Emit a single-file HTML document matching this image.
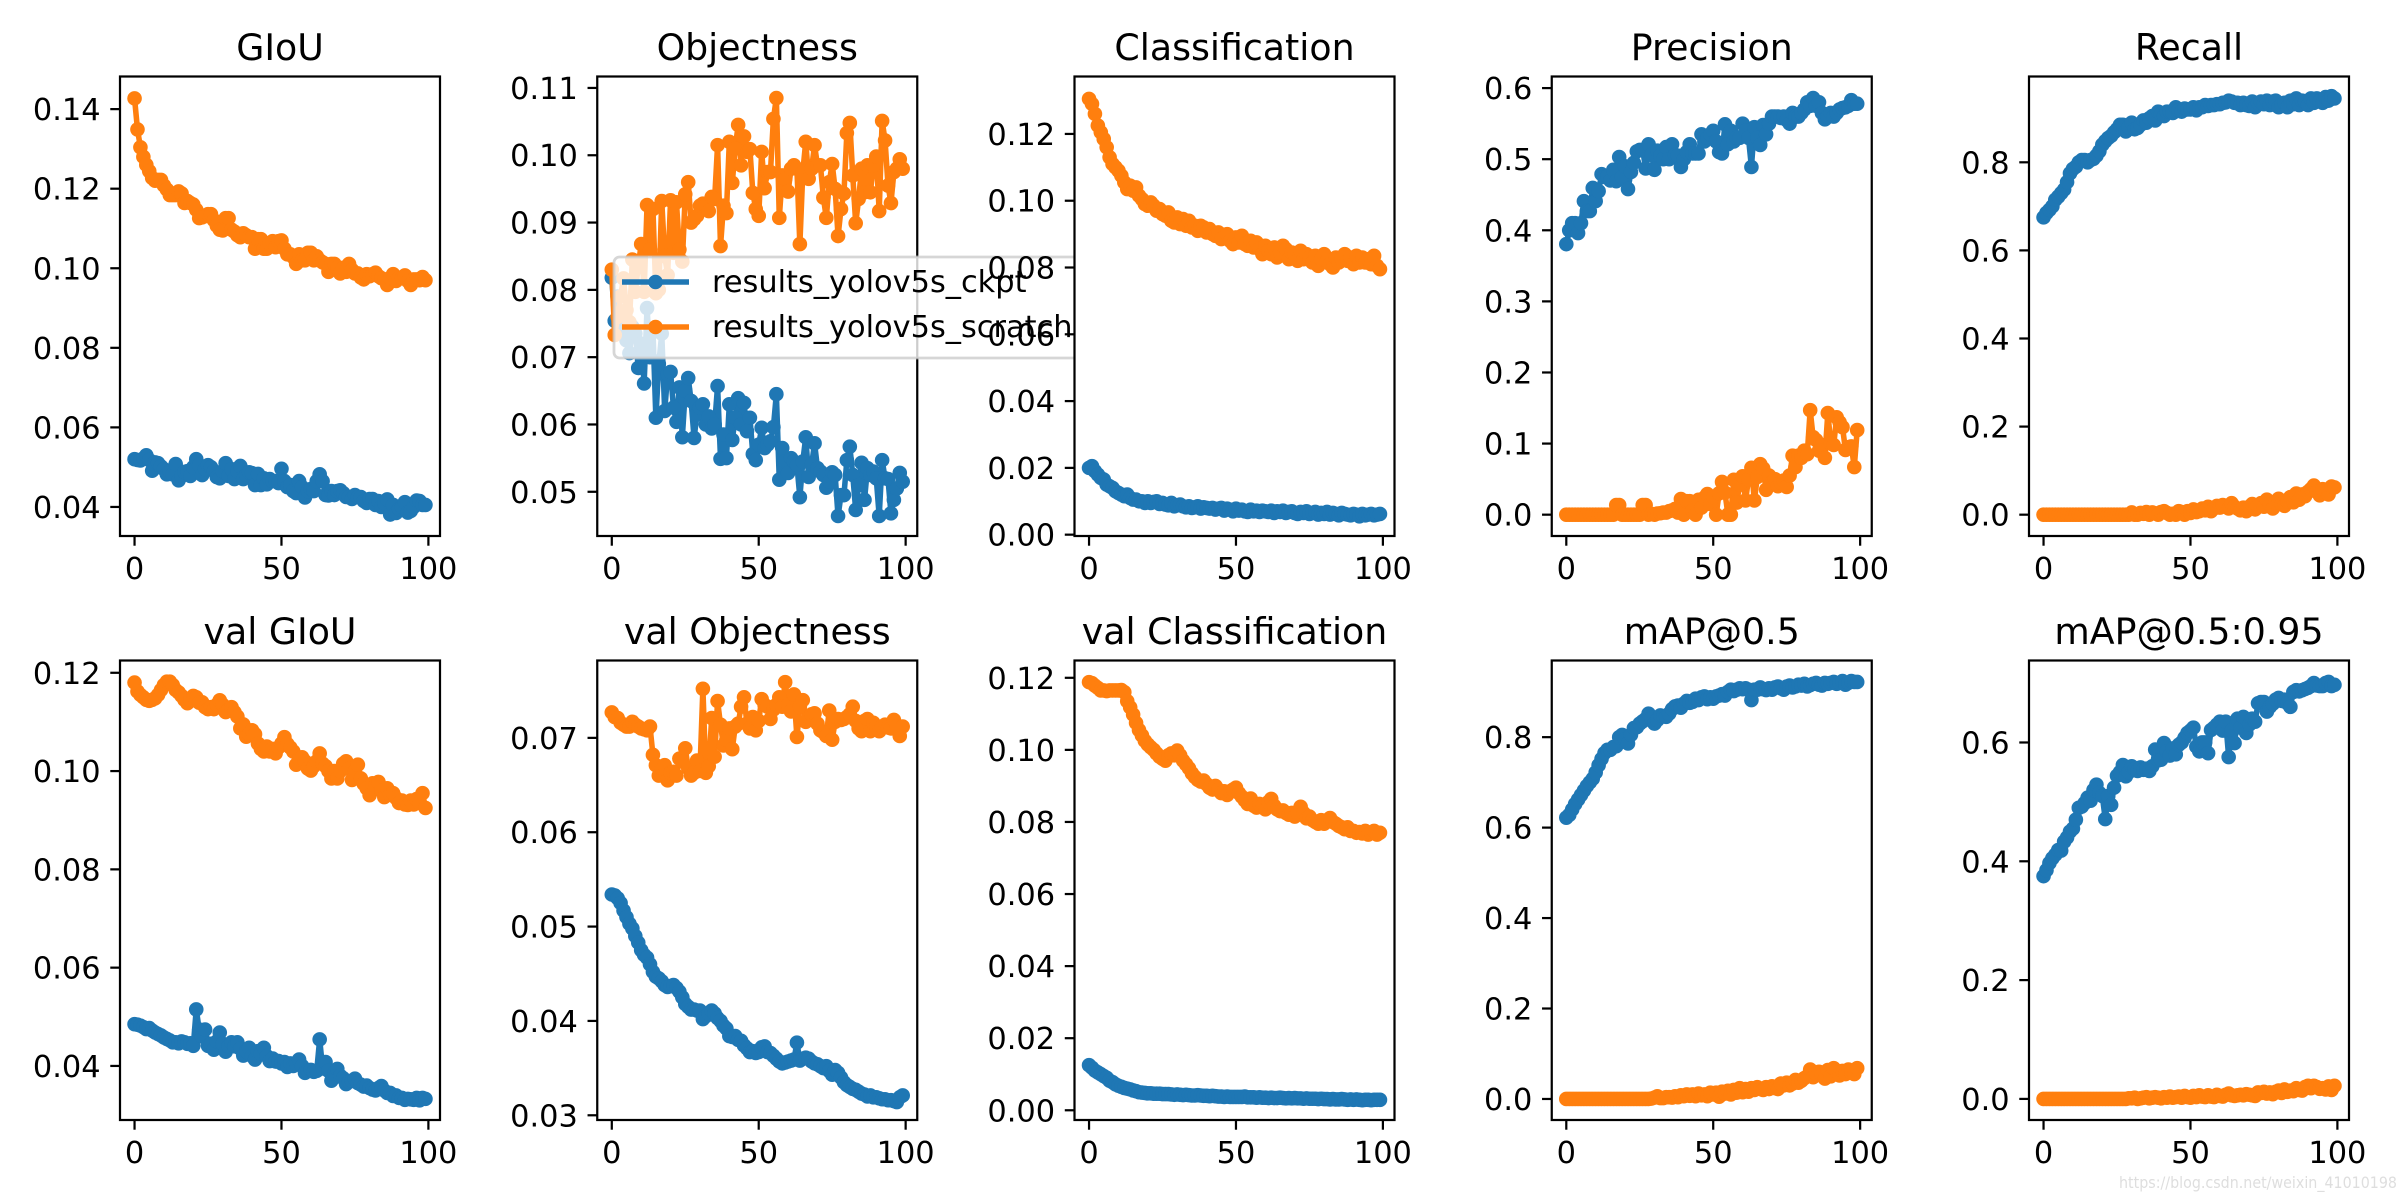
<!DOCTYPE html>
<html lang="en">
<head>
<meta charset="utf-8">
<title>YOLOv5 training results</title>
<style>
html,body{margin:0;padding:0;background:#fff;width:2400px;height:1200px;overflow:hidden}
svg{display:block}
text{font-family:"DejaVu Sans","Liberation Sans",sans-serif;fill:#000}
</style>
</head>
<body>
<svg id="chart" xmlns="http://www.w3.org/2000/svg" width="2400" height="1200" viewBox="0 0 2400 1200"></svg>
<script>
const panelTitles = ['GIoU','Objectness','Classification','Precision','Recall','val GIoU','val Objectness','val Classification','mAP@0.5','mAP@0.5:0.95'];
const legendLabels = ['results_yolov5s_ckpt','results_yolov5s_scratch'];
const xTickLabels = ['0','50','100'];
const xLimits = [-4.95,103.95];

const giouTicks = ['0.04','0.06','0.08','0.10','0.12','0.14'];
const objTicks = ['0.05','0.06','0.07','0.08','0.09','0.10','0.11'];
const classTicks = ['0.00','0.02','0.04','0.06','0.08','0.10','0.12'];
const precisionTicks = ['0.0','0.1','0.2','0.3','0.4','0.5','0.6'];
const recallTicks = ['0.0','0.2','0.4','0.6','0.8'];
const valGiouTicks = ['0.04','0.06','0.08','0.10','0.12'];
const valObjTicks = ['0.03','0.04','0.05','0.06','0.07'];
const valClassTicks = ['0.00','0.02','0.04','0.06','0.08','0.10','0.12'];
const map50Ticks = ['0.0','0.2','0.4','0.6','0.8'];
const map95Ticks = ['0.0','0.2','0.4','0.6'];

const giouLimits = [0.0327,0.1482];
const objLimits = [0.04343,0.1117];
const classLimits = [-0.0004,0.1372];
const precisionLimits = [-0.03,0.6163];
const recallLimits = [-0.0484,0.9948];
const valGiouLimits = [0.029,0.1225];
const valObjLimits = [0.0295,0.0782];
const valClassLimits = [-0.0027,0.1248];
const map50Limits = [-0.0465,0.9695];
const map95Limits = [-0.0355,0.738];

const giouCkpt = [
.0520,.0518,.0517,.0522,.0530,.0518,.0491,.0512,.0510,.0502,
.0495,.0482,.0490,.0482,.0508,.0467,.0478,.0488,.0490,.0478,
.0500,.0520,.0505,.0480,.0495,.0505,.0500,.0490,.0475,.0472,
.0490,.0510,.0478,.0495,.0470,.0490,.0503,.0470,.0480,.0487,
.0485,.0455,.0483,.0455,.0472,.0457,.0470,.0465,.0465,.0460,
.0496,.0465,.0450,.0455,.0440,.0435,.0465,.0450,.0424,.0440,
.0445,.0440,.0465,.0482,.0465,.0430,.0429,.0440,.0430,.0440,
.0442,.0435,.0425,.0425,.0420,.0430,.0425,.0425,.0415,.0410,
.0420,.0420,.0405,.0415,.0400,.0410,.0419,.0381,.0405,.0385,
.0395,.0400,.0412,.0386,.0390,.0400,.0416,.0415,.0405,.0405];
const giouScratch = [
.1427,.1349,.1304,.1280,.1260,.1244,.1227,.1220,.1222,.1222,
.1208,.1198,.1184,.1184,.1184,.1193,.1188,.1164,.1169,.1164,
.1160,.1147,.1126,.1128,.1131,.1136,.1136,.1121,.1107,.1097,
.1095,.1126,.1126,.1097,.1092,.1083,.1078,.1088,.1083,.1078,
.1078,.1049,.1073,.1073,.1049,.1049,.1063,.1068,.1053,.1068,
.1070,.1049,.1035,.1035,.1028,.1011,.1035,.1020,.1020,.1039,
.1039,.1020,.1030,.1020,.1015,.1011,.0991,.1011,.1011,.1001,
.0987,.1001,.0991,.1011,.0996,.0987,.0987,.0977,.0972,.0985,
.0980,.0985,.0989,.0980,.0975,.0972,.0958,.0975,.0985,.0968,
.0975,.0975,.0982,.0968,.0958,.0972,.0972,.0970,.0978,.0970];
const objCkpt = [
.0818,.0754,.0790,.0745,.0740,.0725,.0706,.0745,.0735,.0684,
.0720,.0661,.0773,.0700,.0740,.0610,.0690,.0735,.0620,.0675,
.0678,.0625,.0604,.0655,.0581,.0650,.0669,.0635,.0580,.0615,
.0625,.0630,.0600,.0612,.0594,.0600,.0657,.0549,.0585,.0550,
.0630,.0577,.0610,.0639,.0600,.0632,.0590,.0610,.0556,.0547,
.0570,.0595,.0565,.0570,.0575,.0596,.0645,.0518,.0565,.0545,
.0528,.0550,.0545,.0540,.0492,.0545,.0581,.0522,.0540,.0572,
.0535,.0530,.0525,.0506,.0515,.0529,.0525,.0464,.0495,.0495,
.0547,.0567,.0525,.0473,.0510,.0543,.0488,.0535,.0525,.0530,
.0520,.0464,.0547,.0520,.0519,.0468,.0488,.0505,.0528,.0515];
const objScratch = [
.0830,.0733,.0760,.0790,.0817,.0770,.0752,.0845,.0797,.0835,
.0868,.0797,.0926,.0860,.0920,.0795,.0800,.0932,.0850,.0822,
.0933,.0855,.0930,.0860,.0842,.0942,.0960,.0900,.0905,.0910,
.0925,.0928,.0925,.0917,.0938,.0935,.1015,.0865,.0925,.0914,
.1020,.0959,.1010,.1045,.0985,.1028,.1005,.1009,.0944,.0920,
.0910,.1005,.0951,.0975,.0975,.1054,.1085,.0907,.0970,.0965,
.0946,.0980,.0985,.0980,.0868,.0975,.1020,.0965,.0980,.1015,
.0985,.0985,.0937,.0907,.0960,.0987,.0950,.0880,.0920,.0943,
.1033,.1048,.0970,.0899,.0935,.0980,.0945,.0985,.0945,.0985,
.0998,.0917,.1051,.1022,.0955,.0929,.0975,.0980,.0994,.0980];
const classCkpt = [
.0200,.0205,.0190,.0180,.0170,.0165,.0150,.0145,.0140,.0130,
.0125,.0120,.0115,.0120,.0110,.0105,.0105,.0100,.0100,.0095,
.0100,.0095,.0098,.0100,.0092,.0095,.0090,.0088,.0095,.0085,
.0088,.0090,.0085,.0082,.0085,.0080,.0082,.0085,.0078,.0082,
.0080,.0078,.0080,.0075,.0078,.0080,.0072,.0078,.0075,.0070,
.0078,.0072,.0075,.0070,.0068,.0075,.0070,.0072,.0068,.0072,
.0070,.0068,.0072,.0065,.0070,.0068,.0072,.0065,.0068,.0070,
.0065,.0062,.0068,.0065,.0070,.0062,.0065,.0068,.0060,.0065,
.0062,.0068,.0060,.0065,.0062,.0058,.0065,.0062,.0060,.0058,
.0062,.0060,.0055,.0062,.0058,.0060,.0062,.0058,.0060,.0062];
const classScratch = [
.1305,.1290,.1260,.1225,.1205,.1185,.1160,.1130,.1110,.1100,
.1090,.1075,.1055,.1035,.1045,.1030,.1040,.1015,.1005,.0990,
.0985,.0995,.0985,.0970,.0975,.0960,.0955,.0965,.0940,.0935,
.0950,.0930,.0945,.0925,.0940,.0920,.0925,.0910,.0925,.0920,
.0905,.0915,.0900,.0895,.0905,.0885,.0890,.0900,.0880,.0870,
.0890,.0875,.0895,.0870,.0865,.0880,.0860,.0875,.0855,.0840,
.0865,.0850,.0840,.0860,.0830,.0845,.0865,.0855,.0825,.0845,
.0840,.0820,.0850,.0825,.0840,.0830,.0815,.0835,.0805,.0825,
.0840,.0820,.0810,.0800,.0830,.0815,.0825,.0840,.0820,.0830,
.0810,.0835,.0815,.0830,.0815,.0825,.0810,.0835,.0805,.0795];
const precisionCkpt = [
.3805,.4000,.4100,.4100,.3960,.4100,.4410,.4270,.4270,.4595,
.4410,.4550,.4790,.4750,.4760,.4700,.4850,.4690,.5030,.4750,
.4900,.4580,.4820,.4950,.5110,.5130,.5130,.4870,.5210,.5060,
.4850,.5120,.5050,.5000,.5170,.5000,.5210,.5060,.5050,.4890,
.5000,.5100,.5210,.5080,.5080,.5080,.5350,.5250,.5300,.5350,
.5400,.5250,.5100,.5080,.5490,.5210,.5400,.5250,.5300,.5300,
.5500,.5400,.5300,.4890,.5450,.5300,.5200,.5480,.5350,.5500,
.5600,.5600,.5600,.5580,.5600,.5550,.5500,.5650,.5600,.5600,
.5650,.5700,.5800,.5750,.5860,.5750,.5800,.5650,.5560,.5600,
.5650,.5600,.5650,.5700,.5720,.5730,.5750,.5830,.5780,.5780];
const precisionScratch = [
0,0,0,0,0,0,0,0,0,0,
0,0,0,0,0,0,0,.0135,.0135,0,
0,0,0,0,0,0,.0135,.0135,0,.0010,
0,.0015,.0020,.0030,.0030,.0050,.0060,.0080,.0030,.0220,
0,.0190,.0190,.0060,0,.0210,.0100,.0240,.0290,.0150,
.0250,0,.0300,.0460,.0310,0,0,.0490,.0170,.0420,
.0540,.0200,.0500,.0660,.0200,.0530,.0710,.0650,.0350,.0550,
.0450,.0500,.0400,.0450,.0480,.0390,.0550,.0830,.0670,.0830,
.0800,.0900,.0850,.1470,.1090,.1050,.0900,.0980,.0800,.1430,
.1000,.0980,.1370,.1300,.1230,.0910,.0950,.0960,.0670,.1190];
const recallCkpt = [
.675,.685,.692,.700,.715,.722,.730,.738,.755,.775,
.785,.790,.800,.805,.805,.800,.805,.808,.815,.825,
.840,.848,.855,.860,.868,.875,.885,.885,.870,.880,
.890,.875,.878,.885,.895,.890,.900,.905,.895,.915,
.910,.905,.915,.915,.912,.925,.918,.915,.922,.920,
.920,.925,.918,.925,.925,.930,.928,.930,.930,.932,
.932,.935,.936,.940,.938,.935,.935,.930,.935,.930,
.928,.938,.925,.935,.938,.932,.940,.930,.938,.940,
.925,.930,.935,.925,.940,.932,.945,.930,.940,.938,
.930,.945,.935,.945,.938,.935,.948,.940,.950,.945];
const recallScratch = [
0,0,0,0,0,0,0,0,0,0,
0,0,0,0,0,0,0,0,0,0,
0,0,0,0,0,0,0,0,0,0,
.005,0,0,.004,.002,.006,0,.005,.003,0,
.006,.008,.004,0,.002,0,.008,.006,0,.008,
.004,.012,.006,.008,.014,.010,.018,.008,.014,.020,
.016,.022,.018,.014,.026,.018,.014,.010,.016,.008,
.018,.024,.012,.020,.026,.018,.034,.022,.014,.028,
.036,.024,.020,.030,.040,.028,.048,.034,.046,.042,
.052,.058,.066,.052,.044,.058,.056,.046,.064,.062];
const valGiouCkpt = [
.0485,.0484,.0482,.0479,.0475,.0477,.0472,.0468,.0465,.0462,
.0458,.0455,.0452,.0448,.0448,.0446,.0450,.0448,.0445,.0446,
.0441,.0515,.0474,.0460,.0474,.0441,.0445,.0433,.0450,.0468,
.0445,.0429,.0440,.0448,.0440,.0448,.0435,.0421,.0430,.0437,
.0420,.0413,.0430,.0425,.0437,.0420,.0410,.0415,.0409,.0410,
.0405,.0408,.0398,.0405,.0400,.0405,.0413,.0400,.0386,.0390,
.0392,.0388,.0390,.0454,.0395,.0408,.0390,.0370,.0385,.0394,
.0380,.0375,.0363,.0368,.0370,.0374,.0365,.0362,.0358,.0360,
.0355,.0352,.0350,.0355,.0359,.0350,.0345,.0345,.0339,.0340,
.0335,.0335,.0331,.0333,.0332,.0331,.0335,.0330,.0335,.0333];
const valGiouScratch = [
.1180,.1162,.1155,.1150,.1145,.1143,.1145,.1148,.1155,.1165,
.1175,.1182,.1182,.1175,.1165,.1160,.1153,.1145,.1138,.1145,
.1153,.1150,.1139,.1140,.1130,.1126,.1130,.1126,.1135,.1144,
.1135,.1120,.1125,.1130,.1120,.1111,.1087,.1095,.1070,.1075,
.1083,.1075,.1056,.1045,.1040,.1050,.1040,.1045,.1036,.1048,
.1056,.1069,.1055,.1048,.1040,.1013,.1025,.1028,.1020,.1005,
.1001,.1010,.1020,.1036,.1015,.1010,.1000,.0985,.1000,.0985,
.1000,.1015,.1020,.1005,.0982,.1000,.1013,.0985,.0974,.0965,
.0951,.0975,.0970,.0978,.0960,.0947,.0965,.0952,.0955,.0945,
.0935,.0940,.0932,.0931,.0940,.0932,.0943,.0935,.0955,.0925];
const valObjCkpt = [
.0534,.0533,.0530,.0525,.0517,.0510,.0503,.0498,.0490,.0483,
.0475,.0470,.0467,.0460,.0452,.0447,.0445,.0442,.0438,.0436,
.0437,.0438,.0435,.0431,.0425,.0418,.0415,.0412,.0412,.0411,
.0411,.0402,.0405,.0408,.0411,.0408,.0403,.0400,.0395,.0392,
.0384,.0383,.0384,.0380,.0379,.0374,.0371,.0367,.0368,.0366,
.0367,.0372,.0373,.0367,.0366,.0363,.0360,.0357,.0355,.0356,
.0357,.0358,.0359,.0377,.0358,.0360,.0361,.0360,.0357,.0355,
.0354,.0352,.0350,.0352,.0347,.0343,.0348,.0345,.0340,.0335,
.0332,.0330,.0328,.0327,.0325,.0323,.0322,.0320,.0321,.0319,
.0319,.0318,.0317,.0317,.0316,.0316,.0315,.0314,.0319,.0321];
const valObjScratch = [
.0727,.0722,.0721,.0716,.0714,.0712,.0712,.0717,.0714,.0712,
.0710,.0709,.0708,.0712,.0682,.0671,.0660,.0668,.0671,.0655,
.0663,.0664,.0660,.0678,.0675,.0689,.0668,.0660,.0663,.0676,
.0665,.0752,.0663,.0670,.0721,.0680,.0739,.0714,.0692,.0698,
.0710,.0688,.0712,.0715,.0733,.0743,.0715,.0710,.0722,.0708,
.0718,.0741,.0735,.0733,.0720,.0730,.0735,.0743,.0733,.0759,
.0735,.0728,.0746,.0701,.0733,.0740,.0717,.0722,.0725,.0726,
.0715,.0708,.0706,.0702,.0729,.0698,.0717,.0720,.0719,.0720,
.0722,.0725,.0733,.0718,.0710,.0707,.0718,.0720,.0707,.0716,
.0712,.0707,.0712,.0714,.0711,.0710,.0719,.0712,.0702,.0712];
const valClassCkpt = [
.0125,.0118,.0110,.0105,.0100,.0095,.0090,.0082,.0078,.0072,
.0068,.0065,.0062,.0060,.0058,.0055,.0053,.0050,.0049,.0048,
.0047,.0047,.0046,.0046,.0046,.0045,.0045,.0045,.0044,.0043,
.0044,.0043,.0042,.0043,.0042,.0041,.0041,.0042,.0041,.0040,
.0040,.0039,.0040,.0039,.0038,.0038,.0037,.0038,.0037,.0037,
.0037,.0037,.0037,.0038,.0036,.0036,.0036,.0035,.0036,.0035,
.0035,.0034,.0035,.0034,.0034,.0035,.0034,.0033,.0034,.0033,
.0034,.0033,.0033,.0032,.0033,.0032,.0032,.0032,.0031,.0032,
.0031,.0031,.0030,.0031,.0030,.0030,.0031,.0030,.0029,.0030,
.0029,.0030,.0029,.0028,.0029,.0029,.0028,.0029,.0029,.0029];
const valClassScratch = [
.1188,.1185,.1178,.1172,.1165,.1165,.1163,.1165,.1165,.1165,
.1165,.1166,.1160,.1135,.1118,.1098,.1075,.1055,.1040,.1025,
.1015,.1007,.1000,.0990,.0981,.0975,.0970,.0985,.0990,.0985,
.0998,.0985,.0970,.0960,.0949,.0935,.0925,.0917,.0912,.0915,
.0905,.0895,.0890,.0900,.0890,.0880,.0885,.0875,.0885,.0890,
.0895,.0880,.0870,.0860,.0850,.0865,.0845,.0840,.0850,.0845,
.0835,.0855,.0864,.0845,.0835,.0830,.0832,.0825,.0820,.0825,
.0815,.0825,.0842,.0825,.0810,.0815,.0805,.0800,.0795,.0805,
.0795,.0805,.0811,.0800,.0795,.0789,.0785,.0780,.0785,.0775,
.0775,.0770,.0772,.0768,.0775,.0765,.0770,.0775,.0765,.0770];
const map50Ckpt = [
.622,.628,.640,.652,.662,.672,.682,.692,.700,.708,
.722,.738,.752,.765,.772,.772,.778,.780,.800,.805,
.795,.786,.805,.820,.822,.830,.835,.840,.852,.842,
.830,.838,.848,.846,.845,.852,.862,.868,.870,.865,
.874,.880,.876,.878,.885,.882,.888,.890,.884,.888,
.885,.890,.892,.895,.892,.900,.905,.902,.905,.908,
.906,.908,.905,.882,.905,.905,.910,.906,.904,.908,
.905,.910,.912,.908,.905,.912,.914,.910,.912,.916,
.914,.918,.912,.915,.918,.920,.916,.914,.920,.918,
.920,.922,.918,.920,.924,.916,.920,.924,.922,.922];
const map50Scratch = [
0,0,0,0,0,0,0,0,0,0,
0,0,0,0,0,0,0,0,0,0,
0,0,0,0,0,0,0,0,0,.001,
.003,.006,.002,.002,.004,.004,.003,.006,.004,.008,
.006,.010,.007,.010,.006,.012,.008,.010,.006,.014,
.010,.014,.005,.016,.012,.018,.010,.020,.014,.024,
.015,.022,.016,.024,.020,.026,.022,.020,.026,.022,
.028,.024,.022,.034,.030,.036,.030,.034,.042,.036,
.040,.046,.050,.065,.048,.056,.060,.052,.045,.064,
.050,.068,.062,.052,.062,.055,.065,.058,.055,.068];
const map95Ckpt = [
.375,.385,.397,.405,.411,.419,.418,.433,.440,.450,
.455,.470,.490,.492,.498,.507,.502,.520,.529,.515,
.510,.471,.510,.495,.524,.544,.550,.562,.543,.550,
.560,.555,.552,.558,.554,.556,.552,.560,.588,.570,
.571,.599,.585,.578,.590,.580,.596,.600,.608,.616,
.620,.625,.593,.585,.600,.600,.582,.621,.625,.630,
.635,.620,.635,.5755,.620,.599,.640,.625,.643,.616,
.630,.640,.635,.666,.668,.668,.652,.660,.665,.672,
.675,.670,.672,.666,.660,.685,.688,.686,.688,.690,
.692,.695,.700,.696,.695,.695,.700,.702,.695,.697];
const map95Scratch = [
0,0,0,0,0,0,0,0,0,0,
0,0,0,0,0,0,0,0,0,0,
0,0,0,0,0,0,0,0,0,.001,
.001,.002,0,.001,.002,.003,.001,.002,.003,.002,
.001,.003,.002,.004,.002,.003,.004,.002,.005,.003,
.002,.005,.003,.006,.004,.003,.006,.004,.003,.007,
.005,.004,.007,.009,.006,.005,.006,.007,.006,.008,
.007,.006,.005,.011,.010,.012,.009,.011,.008,.012,
.014,.010,.016,.012,.014,.013,.018,.015,.014,.020,
.022,.018,.022,.020,.017,.018,.016,.021,.015,.022];

const panelSeries = [
  [giouCkpt,giouScratch],[objCkpt,objScratch],[classCkpt,classScratch],[precisionCkpt,precisionScratch],[recallCkpt,recallScratch],
  [valGiouCkpt,valGiouScratch],[valObjCkpt,valObjScratch],[valClassCkpt,valClassScratch],[map50Ckpt,map50Scratch],[map95Ckpt,map95Scratch]
];
const panelTicks = [giouTicks,objTicks,classTicks,precisionTicks,recallTicks,valGiouTicks,valObjTicks,valClassTicks,map50Ticks,map95Ticks];
const panelLimits = [giouLimits,objLimits,classLimits,precisionLimits,recallLimits,valGiouLimits,valObjLimits,valClassLimits,map50Limits,map95Limits];
const seriesColors = ['#1f77b4','#ff7f0e'];

const NS = 'http://www.w3.org/2000/svg';
const root = document.getElementById('chart');
const AX_W = 320, AX_H = 459.5, COL_STEP = 477.25;
const LW = 5.56, MR = 7.3, SPINE = 2.22, TICK = 9.72;
const TICK_FONT = 30.4, TITLE_FONT = 36.3;

function mk(parent, tag, attrs, text) {
  const el = document.createElementNS(NS, tag);
  for (const k in attrs) el.setAttribute(k, attrs[k]);
  if (text !== undefined) el.textContent = text;
  parent.appendChild(el);
  return el;
}
function slug(s) {
  return s.toLowerCase().replace(/[^a-z0-9]+/g, '-').replace(/^-|-$/g, '');
}

panelTitles.forEach(function (title, p) {
  const col = p % 5;
  const row = Math.floor(p / 5);
  const left = 120 + col * COL_STEP;
  const top = row === 0 ? 76.5 : 660.5;
  const bottom = top + AX_H;
  const right = left + AX_W;
  const limits = panelLimits[p];
  const xScale = function (v) { return left + (v - xLimits[0]) / (xLimits[1] - xLimits[0]) * AX_W; };
  const yScale = function (v) { return bottom - (v - limits[0]) / (limits[1] - limits[0]) * AX_H; };
  const key = slug(title);

  const g = mk(root, 'g', {});
  
  

  const patch = mk(g, 'rect', {x: left, y: top, width: AX_W, height: AX_H, fill: '#fff'});
  
  

  panelSeries[p].forEach(function (values, s) {
    const sg = mk(g, 'g', {});
    
    
    const pts = values.map(function (v, i) { return xScale(i).toFixed(2) + ',' + yScale(v).toFixed(2); }).join(' ');
    const line = mk(sg, 'polyline', {points: pts, fill: 'none', stroke: seriesColors[s], 'stroke-width': LW, 'stroke-linejoin': 'round', 'stroke-linecap': 'square'});
    
    
    values.forEach(function (v, i) {
      const c = mk(sg, 'circle', {cx: xScale(i).toFixed(2), cy: yScale(v).toFixed(2), r: MR, fill: seriesColors[s]});
      
      
    });
  });

  const spine = mk(g, 'rect', {x: left, y: top, width: AX_W, height: AX_H, fill: 'none', stroke: '#000', 'stroke-width': SPINE});
  
  

  xTickLabels.forEach(function (label) {
    const x = xScale(Number(label));
    const t = mk(g, 'line', {x1: x, x2: x, y1: bottom, y2: bottom + TICK, stroke: '#000', 'stroke-width': SPINE});
    
    
    const l = mk(g, 'text', {x: x, y: bottom + 43, 'font-size': TICK_FONT, 'text-anchor': 'middle'}, label);
    
    
  });

  panelTicks[p].forEach(function (label) {
    const y = yScale(Number(label));
    const t = mk(g, 'line', {x1: left - TICK, x2: left, y1: y, y2: y, stroke: '#000', 'stroke-width': SPINE});
    
    
    const l = mk(g, 'text', {x: left - 19.4, y: y + 11, 'font-size': TICK_FONT, 'text-anchor': 'end'}, label);
    
    
  });

  const titleEl = mk(g, 'text', {x: left + AX_W / 2, y: top - 16.7, 'font-size': TITLE_FONT, 'text-anchor': 'middle'}, title);
  
  

  if (p === 1) {
    const lg = mk(g, 'g', {});
    
    
    const box = mk(lg, 'rect', {x: 614, y: 257, width: 470, height: 101, rx: 5.5, ry: 5.5, fill: 'rgba(255,255,255,0.8)', stroke: 'rgba(204,204,204,0.8)', 'stroke-width': 2.78});
    
    
    legendLabels.forEach(function (label, s) {
      const cy = 282 + s * 45;
      const ll = mk(lg, 'line', {x1: 622, x2: 689, y1: cy, y2: cy, stroke: seriesColors[s], 'stroke-width': LW});
      
      
      const lm = mk(lg, 'circle', {cx: 655.5, cy: cy, r: MR, fill: seriesColors[s]});
      
      
      const lt = mk(lg, 'text', {x: 712, y: cy + 10, 'font-size': TICK_FONT}, label);
      
      
    });
  }
});

const wm = mk(root, 'text', {x: 2119, y: 1188, 'font-size': 16, textLength: 278, lengthAdjust: 'spacingAndGlyphs', style: 'fill:#dedede'}, 'https://blog.csdn.net/weixin_41010198');


</script>
</body>
</html>
